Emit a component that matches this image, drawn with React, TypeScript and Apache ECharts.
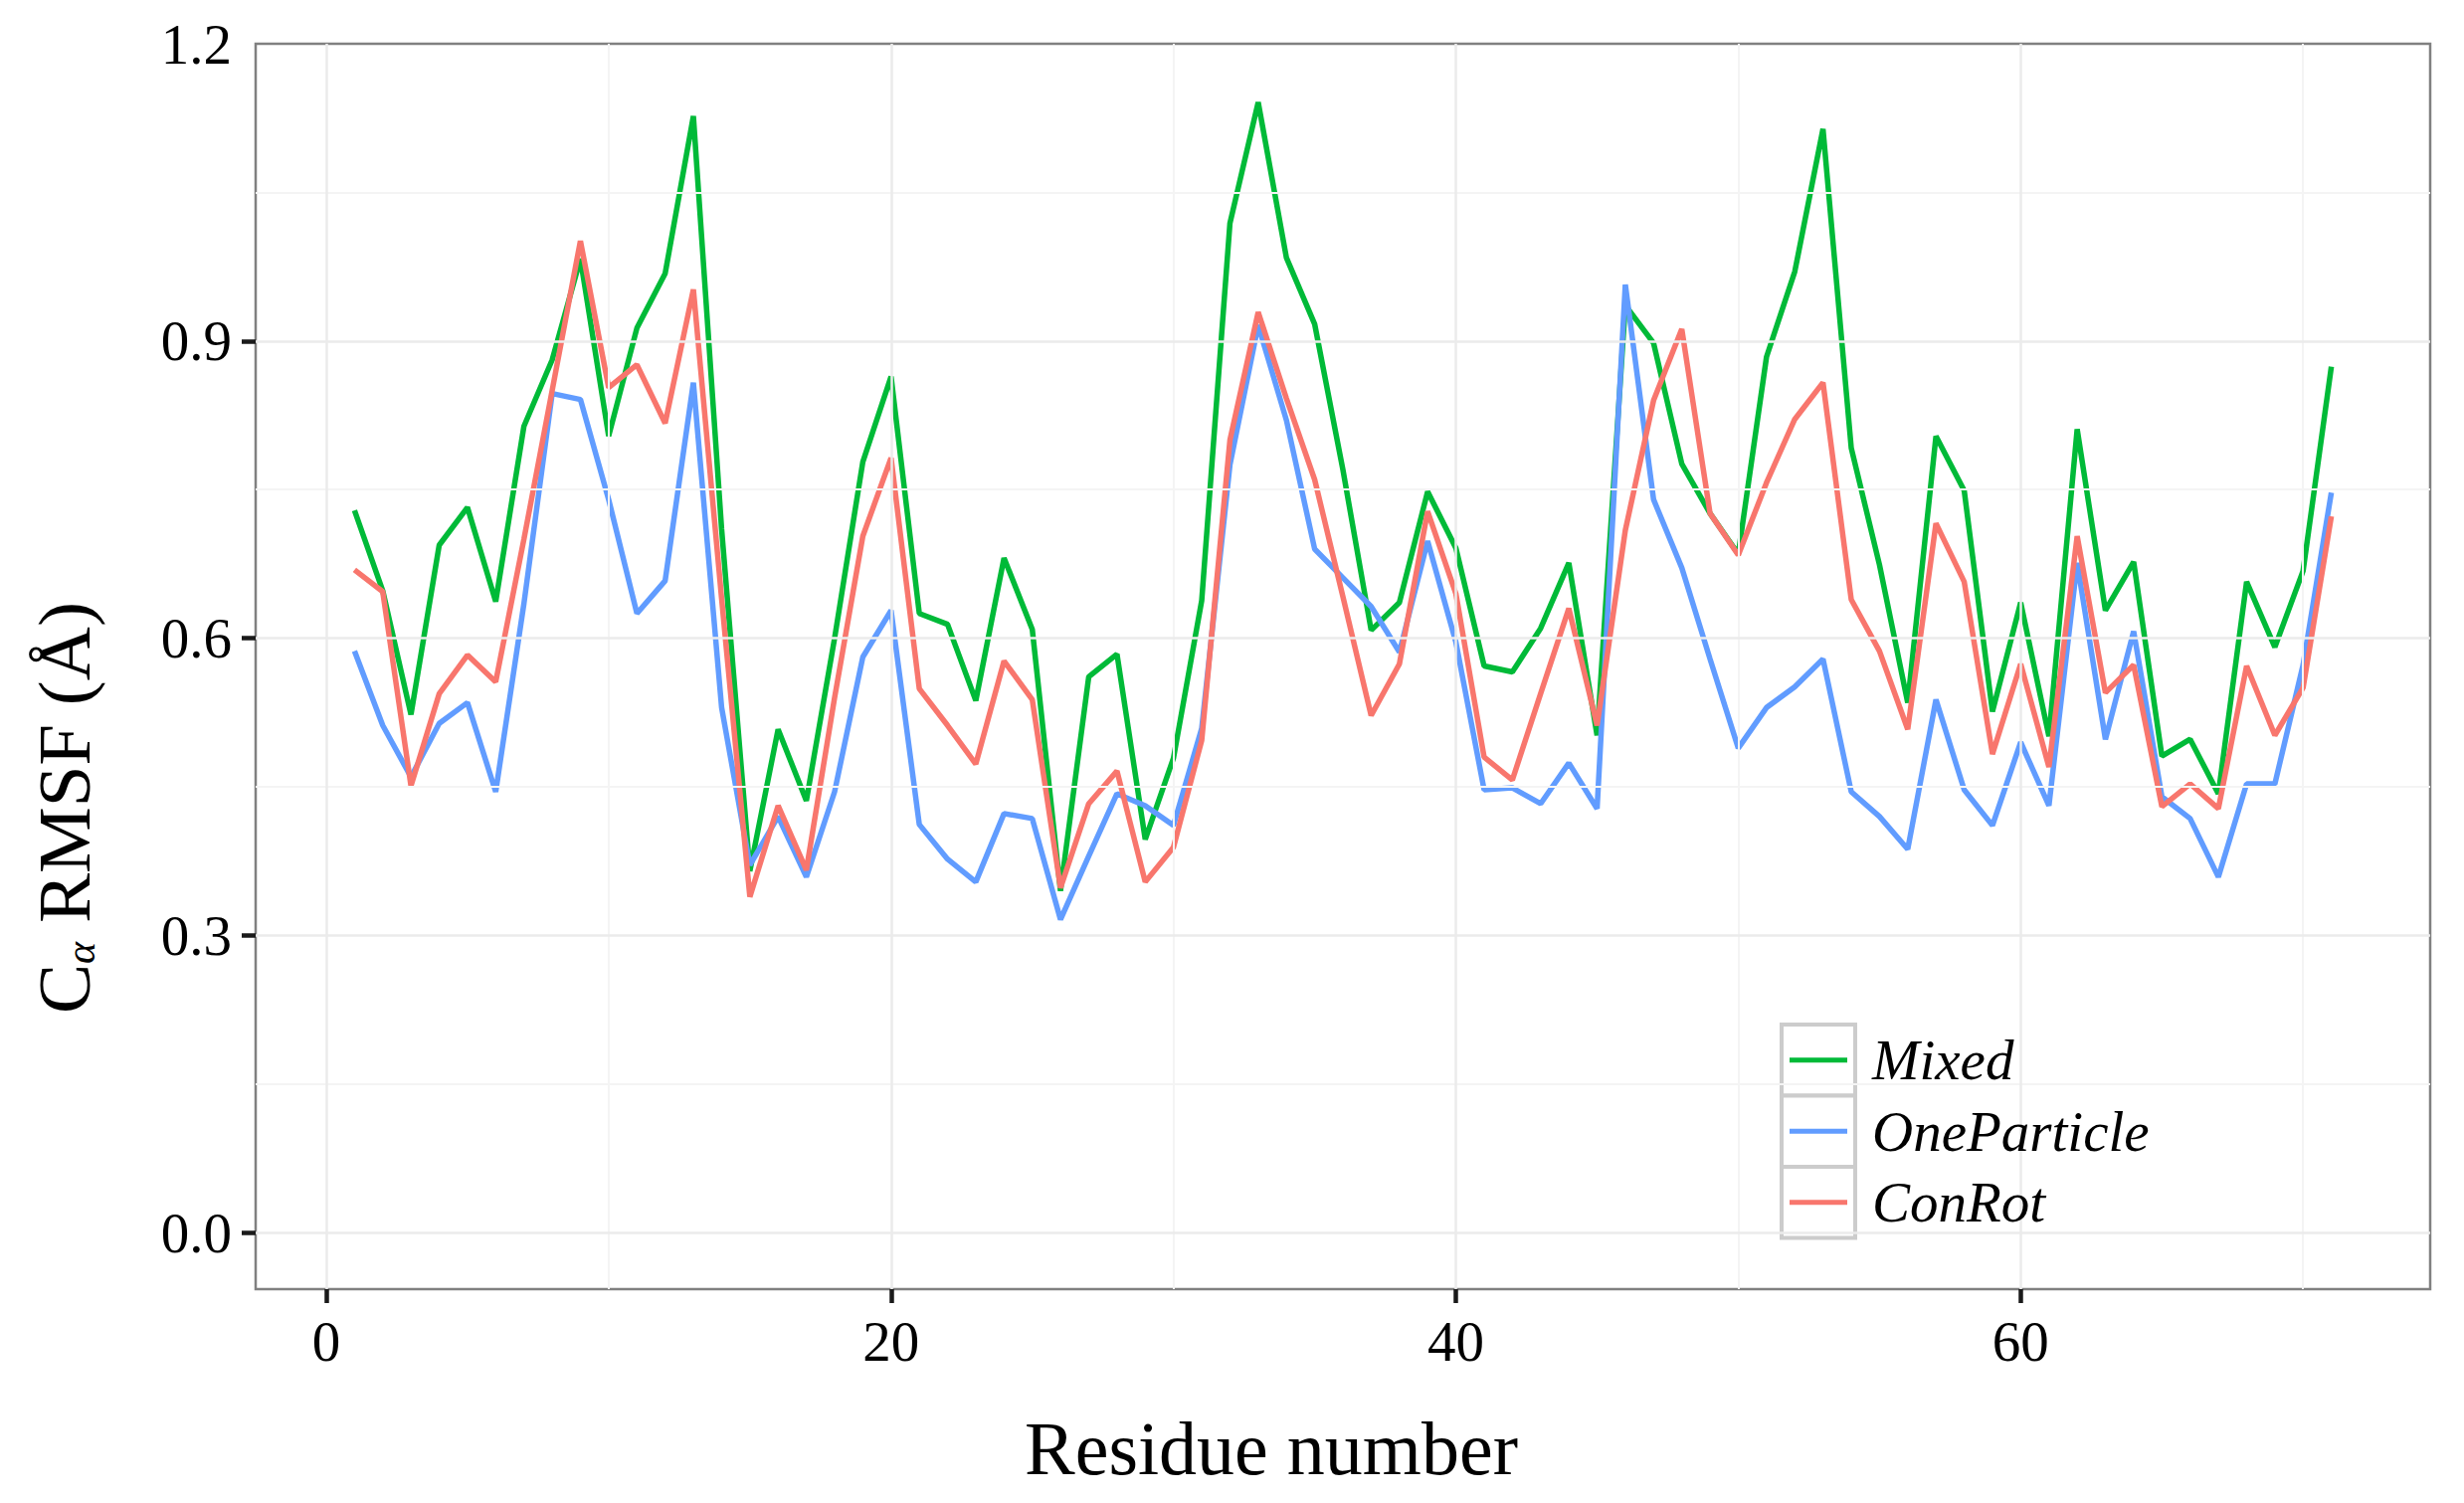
import React, { useEffect, useRef } from "react";
import * as echarts from "echarts";

const residues: number[] = Array.from({ length: 71 }, (_, i) => i + 1);

const mixed: number[] = [
  0.729, 0.648, 0.523, 0.694, 0.732, 0.637, 0.814, 0.881, 0.983, 0.804,
  0.913, 0.968, 1.127, 0.71, 0.365, 0.508, 0.436, 0.6, 0.778, 0.864,
  0.625, 0.614, 0.537, 0.681, 0.609, 0.345, 0.561, 0.584, 0.397, 0.479,
  0.638, 1.019, 1.141, 0.984, 0.917, 0.77, 0.608, 0.636, 0.748, 0.691,
  0.572, 0.566, 0.61, 0.676, 0.502, 0.936, 0.898, 0.776, 0.726, 0.685,
  0.884, 0.97, 1.114, 0.792, 0.674, 0.535, 0.804, 0.749, 0.526, 0.636,
  0.501, 0.811, 0.628, 0.677, 0.481, 0.498, 0.443, 0.657, 0.591, 0.668,
  0.874,
];

const oneParticle: number[] = [
  0.587, 0.512, 0.46, 0.514, 0.535, 0.445, 0.635, 0.847, 0.841, 0.74,
  0.625, 0.658, 0.858, 0.53, 0.371, 0.42, 0.359, 0.445, 0.581, 0.628,
  0.412, 0.377, 0.354, 0.423, 0.418, 0.316, 0.38, 0.443, 0.431, 0.411,
  0.509, 0.775, 0.916, 0.82, 0.69, 0.661, 0.632, 0.586, 0.698, 0.596,
  0.447, 0.449, 0.433, 0.474, 0.428, 0.957, 0.74, 0.671, 0.579, 0.489,
  0.53, 0.551, 0.579, 0.445, 0.42, 0.387, 0.538, 0.447, 0.411, 0.495,
  0.431, 0.676, 0.498, 0.607, 0.44, 0.418, 0.359, 0.453, 0.453, 0.573,
  0.747,
];

const conRot: number[] = [
  0.669, 0.647, 0.451, 0.544, 0.583, 0.556, 0.7, 0.85, 1.001, 0.853,
  0.876, 0.817, 0.952, 0.64, 0.339, 0.431, 0.366, 0.54, 0.703, 0.782,
  0.549, 0.512, 0.473, 0.577, 0.538, 0.348, 0.433, 0.466, 0.354, 0.389,
  0.497, 0.8, 0.929, 0.842, 0.76, 0.642, 0.522, 0.574, 0.728, 0.645,
  0.48, 0.457, 0.544, 0.63, 0.512, 0.709, 0.84, 0.912, 0.726, 0.684,
  0.757, 0.821, 0.858, 0.639, 0.587, 0.508, 0.716, 0.657, 0.483, 0.574,
  0.47, 0.703, 0.545, 0.573, 0.43, 0.453, 0.428, 0.572, 0.502, 0.55,
  0.723,
];

const seriesNames: string[] = ["Mixed", "OneParticle", "ConRot"];
const seriesColors: string[] = ["#00BA38", "#619CFF", "#F8766D"];

const xTicks: number[] = [0, 20, 40, 60];
const xMinorTicks: number[] = [10, 30, 50, 70];
const yTicks: number[] = [0, 0.3, 0.6, 0.9];
const yLabels: number[] = [0, 0.3, 0.6, 0.9, 1.2];
const yMinorTicks: number[] = [0.15, 0.45, 0.75, 1.05];

const FONT = "'Liberation Serif', 'DejaVu Serif', serif";

export default function App() {
  const ref = useRef<HTMLDivElement | null>(null);

  useEffect(() => {
    if (!ref.current) return;
    const chart = echarts.init(ref.current, undefined, { renderer: "svg" });

    const valuesList = [mixed, oneParticle, conRot];

    const majorStyle = { color: "#ebebeb", width: 2.5, type: "solid" };
    const minorStyle = { color: "#f4f4f4", width: 2, type: "solid" };

    const gridLines: any[] = [
      ...yMinorTicks.map((v) => ({ yAxis: v, lineStyle: minorStyle })),
      ...xMinorTicks.map((v) => ({ xAxis: v, lineStyle: minorStyle })),
      ...yLabels.filter((v) => v < 1.2).map((v) => ({ yAxis: v, lineStyle: majorStyle })),
      ...xTicks.map((v) => ({ xAxis: v, lineStyle: majorStyle })),
    ];

    const keyTop = 1030;
    const keyH = 71.5;

    const option: any = {
      animation: false,
      backgroundColor: "#ffffff",
      grid: {
        left: 257,
        top: 44,
        width: 2186,
        height: 1252,
        show: true,
        borderColor: "#808080",
        borderWidth: 2.5,
        backgroundColor: "transparent",
        containLabel: false,
      },
      xAxis: {
        type: "value",
        position: "bottom",
        min: -2.5,
        max: 74.5,
        axisLine: { show: false, onZero: false },
        splitLine: { show: false },
        axisTick: {
          show: true,
          length: 14,
          lineStyle: { color: "#1a1a1a", width: 4.5 },
          customValues: xTicks,
        },
        axisLabel: {
          customValues: xTicks,
          margin: 24,
          fontSize: 57,
          fontFamily: FONT,
          color: "#000000",
        },
      },
      yAxis: {
        type: "value",
        position: "left",
        min: -0.057,
        max: 1.2,
        axisLine: { show: false, onZero: false },
        splitLine: { show: false },
        axisTick: {
          show: true,
          length: 14,
          lineStyle: { color: "#1a1a1a", width: 4.5 },
          customValues: yTicks,
        },
        axisLabel: {
          customValues: yLabels,
          margin: 24,
          fontSize: 57,
          fontFamily: FONT,
          color: "#000000",
          formatter: (v: number) => v.toFixed(1),
        },
      },
      legend: {
        orient: "vertical",
        left: 1799,
        top: keyTop,
        padding: 0,
        itemGap: 0,
        itemWidth: 58,
        itemHeight: 5,
        icon: "rect",
        selectedMode: false,
        z: 6,
        data: seriesNames,
        textStyle: {
          fontFamily: FONT,
          fontStyle: "italic",
          fontSize: 57,
          color: "#000000",
          lineHeight: keyH - 10,
          padding: [10, 0, 0, 20],
        },
      },
      graphic: [
        {
          type: "rect",
          z: 2,
          silent: true,
          shape: { x: 1773, y: 1012, width: 265, height: 254 },
          style: { fill: "#ffffff" },
        },
        ...seriesNames.map((_, i) => ({
          type: "rect",
          z: 4,
          silent: true,
          shape: { x: 1791, y: keyTop + i * keyH, width: 74, height: keyH },
          style: { fill: "#ffffff", stroke: "#cccccc", lineWidth: 4 },
        })),
        {
          type: "text",
          z: 6,
          x: 1278,
          y: 1456,
          style: {
            text: "Residue number",
            fontFamily: FONT,
            fontSize: 76,
            fill: "#000000",
            align: "center",
            verticalAlign: "middle",
          },
        },
        {
          type: "text",
          z: 6,
          x: 64,
          y: 812,
          rotation: Math.PI / 2,
          style: {
            text: "{c|C}{s|α} RMSF (Å)",
            fontFamily: FONT,
            fontSize: 75,
            fill: "#000000",
            align: "center",
            verticalAlign: "middle",
            rich: {
              c: { fontFamily: FONT, fontSize: 75, fill: "#000000" },
              s: {
                fontFamily: FONT,
                fontSize: 42,
                fontStyle: "italic",
                fill: "#000000",
                verticalAlign: "bottom",
              },
            },
          },
        },
      ],
      series: [
        {
          name: "__grid",
          type: "line",
          z: 1,
          silent: true,
          data: [],
          markLine: {
            silent: true,
            symbol: ["none", "none"],
            label: { show: false },
            animation: false,
            data: gridLines,
          },
        },
        ...seriesNames.map((name, i) => ({
          name,
          type: "line",
          z: 3,
          data: residues.map((r, k) => [r, valuesList[i][k]]),
          showSymbol: false,
          symbol: "none",
          lineStyle: { color: seriesColors[i], width: 5.5 },
          itemStyle: { color: seriesColors[i] },
          emphasis: { disabled: true },
        })),
      ],
    };

    chart.setOption(option);
    return () => {
      chart.dispose();
    };
  }, []);

  return (
    <div
      ref={ref}
      style={{ position: "absolute", left: 0, top: 0, width: 2477, height: 1511 }}
    />
  );
}
